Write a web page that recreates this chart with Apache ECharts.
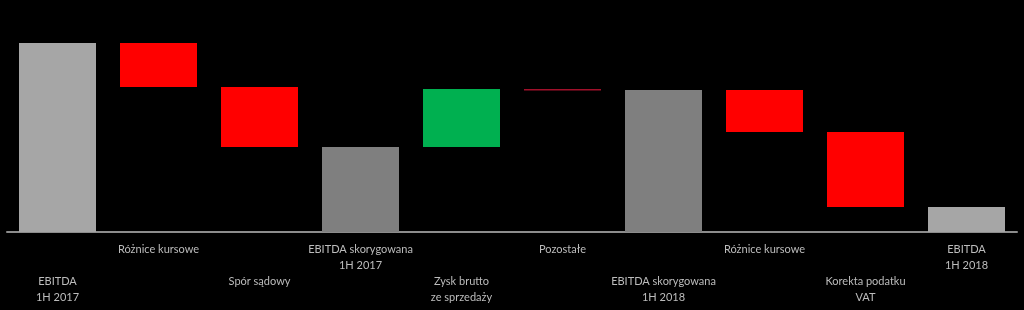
<!DOCTYPE html>
<html>
<head>
<meta charset="utf-8">
<script src="https://cdn.jsdelivr.net/npm/echarts@6/dist/echarts.min.js"></script>
<style>
html,body{margin:0;padding:0;background:#000;}
#chart{width:1024px;height:310px;}
</style>
</head>
<body>
<div id="chart"></div>
<script>
const categories = ['EBITDA\n1H 2017', 'Różnice kursowe', 'Spór sądowy', 'EBITDA skorygowana\n1H 2017', 'Zysk brutto\nze sprzedaży', 'Pozostałe', 'EBITDA skorygowana\n1H 2018', 'Różnice kursowe', 'Korekta podatku\nVAT', 'EBITDA\n1H 2018'];
// totals are absolute levels, the rest are changes
const values = [189, -44, -60, 85, 58, -1.5, 142, -42, -75, 25];
const isTotal = [true, false, false, true, false, false, true, false, false, true];

const colLight = '#a6a6a6', colDark = '#7f7f7f', colUp = '#00b050', colDown = '#ff0000', colSmall = '#a0102a';

const base = [], height = [], colors = [];
let level = 0;
values.forEach((v, i) => {
  if (isTotal[i]) {
    level = v;
    base.push(0); height.push(v);
    colors.push((i === 0 || i === values.length - 1) ? colLight : colDark);
  } else {
    const start = level, end = level + v;
    base.push(Math.min(start, end)); height.push(Math.abs(v));
    level = end;
    colors.push(Math.abs(v) <= 2 ? colSmall : (v > 0 ? colUp : colDown));
  }
});

const chart = echarts.init(document.getElementById('chart'), null, {renderer: 'canvas'});
chart.setOption({
  backgroundColor: '#000',
  animation: false,
  grid: {left: 7, right: 7, top: 32, bottom: 78},
  xAxis: {
    type: 'category',
    data: categories,
    axisLine: {lineStyle: {color: '#8c8c8c', width: 2}},
    axisTick: {show: false},
    axisLabel: {
      interval: 0,
      margin: 9,
      color: '#bcbcbc',
      fontFamily: 'Lato',
      fontSize: 11,
      lineHeight: 16,
      formatter: (v, i) => (i % 2 === 0 ? '\n\n' + v : v)
    }
  },
  yAxis: {type: 'value', min: 0, max: 200, show: false, splitLine: {show: false}},
  series: [
    {type: 'bar', stack: 'w', barWidth: 77, data: base, itemStyle: {color: 'transparent'}, silent: true},
    {type: 'bar', stack: 'w', barWidth: 77,
     data: height.map((h, i) => ({value: h, itemStyle: {color: colors[i]}}))}
  ]
});
</script>
</body>
</html>
